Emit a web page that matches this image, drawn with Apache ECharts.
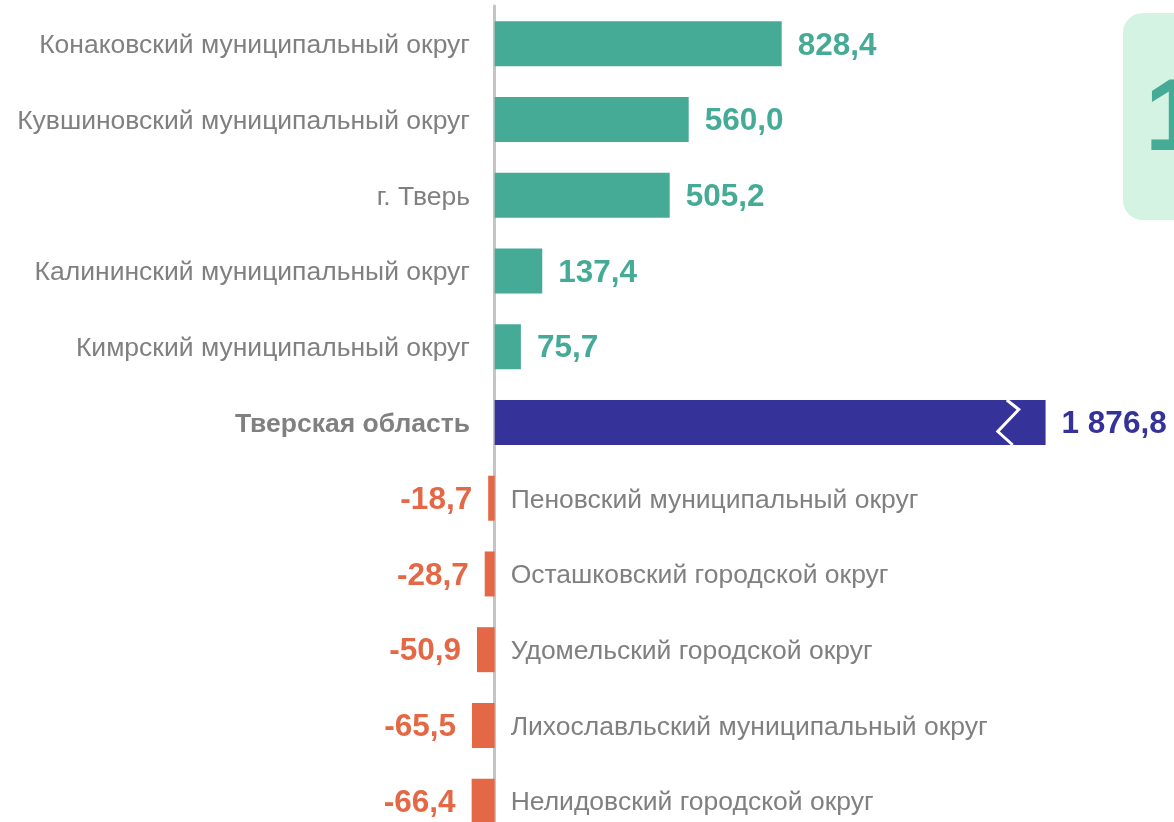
<!DOCTYPE html>
<html>
<head>
<meta charset="utf-8">
<script src="https://cdn.jsdelivr.net/npm/echarts@6/dist/echarts.min.js"></script>
<style>
  html, body { margin: 0; padding: 0; background: #fff; }
  #main { width: 1174px; height: 822px; }
</style>
</head>
<body>
<div id="main"></div>
<script>
var categories = [
  'Конаковский муниципальный округ',
  'Кувшиновский муниципальный округ',
  'г. Тверь',
  'Калининский муниципальный округ',
  'Кимрский муниципальный округ',
  'Тверская область',
  'Пеновский муниципальный округ',
  'Осташковский городской округ',
  'Удомельский городской округ',
  'Лихославльский муниципальный округ',
  'Нелидовский городской округ'
];
var values = [828.4, 560.0, 505.2, 137.4, 75.7, 1876.8, -18.7, -28.7, -50.9, -65.5, -66.4];
var totalIndex = 5;
// ось разорвана: итоговый столбик обрезан
var totalCap = 1590;
var breakAt = 1478;

var TEAL = '#45aa96', BLUE = '#35329a', RED = '#e46845', GREY = '#808080';
var FONT = '"Liberation Sans", Arial, sans-serif';

function fmt(v) {
  var s = Math.abs(v).toFixed(1).split('.');
  var int = s[0].replace(/\B(?=(\d{3})+(?!\d))/g, ' ');
  return (v < 0 ? '-' : '') + int + ',' + s[1];
}

var barData = values.map(function (v, i) {
  var col = i === totalIndex ? BLUE : (v < 0 ? RED : TEAL);
  return {
    value: i === totalIndex ? Math.min(v, totalCap) : v,
    itemStyle: { color: col },
    label: {
      color: col,
      position: v < 0 ? 'left' : 'right'
    }
  };
});

var nameData = values.map(function (v) {
  return v < 0 ? 0 : '-';
});

var myChart = echarts.init(document.getElementById('main'));

myChart.setOption({
  animation: false,
  textStyle: { fontFamily: FONT },
  grid: { left: 460, width: 693, top: 6, height: 833, outerBoundsMode: 'none', containLabel: false },
  xAxis: {
    type: 'value',
    min: -100,
    max: 1900,
    show: false
  },
  yAxis: {
    type: 'category',
    data: categories,
    inverse: true,
    axisTick: { show: false },
    axisLine: { show: true, onZero: true, lineStyle: { color: '#c4c4c4', width: 3 } },
    axisLabel: {
      margin: -10,
      fontSize: 26.5,
      color: GREY,
      fontFamily: FONT,
      padding: [4, 0, 0, 0],
      formatter: function (val, idx) {
        if (values[idx] < 0) return '';
        if (idx === totalIndex) return '{b|' + val + '}';
        return val;
      },
      rich: {
        b: { fontSize: 26.5, fontWeight: 'bold', color: GREY, fontFamily: FONT }
      }
    }
  },
  series: [
    {
      type: 'bar',
      data: barData,
      barWidth: 45,
      label: {
        show: true,
        distance: 16,
        offset: [0, 2],
        fontSize: 31.5,
        fontWeight: 'bold',
        fontFamily: FONT,
        formatter: function (p) { return fmt(values[p.dataIndex]); }
      }
    },
    {
      type: 'bar',
      data: nameData,
      barWidth: 45,
      barGap: '-100%',
      silent: true,
      itemStyle: { color: 'rgba(0,0,0,0)' },
      label: {
        show: true,
        position: 'right',
        distance: 16,
        offset: [0, 2],
        fontSize: 26.5,
        color: GREY,
        fontFamily: FONT,
        formatter: function (p) { return categories[p.dataIndex]; }
      }
    },
    {
      type: 'custom',
      silent: true,
      z: 10,
      data: [[breakAt, totalIndex]],
      renderItem: function (params, api) {
        var c = api.coord([api.value(0), api.value(1)]);
        var h = 22.5;
        return {
          type: 'polyline',
          shape: {
            points: [
              [c[0], c[1] - h],
              [c[0] + 12, c[1] - 13],
              [c[0] - 9, c[1] + 9],
              [c[0] + 6, c[1] + h]
            ]
          },
          style: { stroke: '#fff', lineWidth: 3, fill: null }
        };
      }
    }
  ],
  graphic: [
    {
      type: 'rect',
      shape: { x: 1123, y: 13, width: 90, height: 207, r: 20 },
      style: { fill: '#d4f3e3' },
      z: -1
    },
    {
      type: 'text',
      x: 1145,
      y: 122,
      style: {
        text: '1',
        fill: TEAL,
        font: 'bold 102px ' + FONT,
        verticalAlign: 'middle'
      }
    }
  ]
});
</script>
</body>
</html>
